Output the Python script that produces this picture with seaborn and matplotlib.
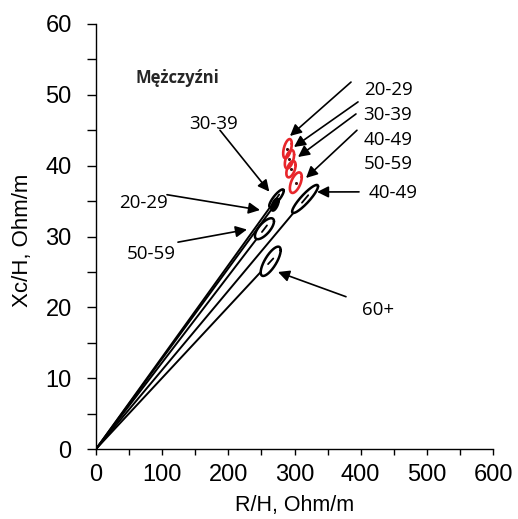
import numpy as np
import pandas as pd
import matplotlib
matplotlib.use("Agg")
import matplotlib.pyplot as plt
import matplotlib.transforms as mtransforms
import seaborn as sns

# Mean impedance vectors (R/H, Xc/H) of men by age group: mean, spread, R-Xc correlation
age_groups = ["20-29", "30-39", "40-49", "50-59", "60+"]
r_mean = [270.5, 272.8, 316.0, 254.6, 264.0]
xc_mean = [34.5, 35.4, 35.3, 31.1, 26.5]
r_spread = [4.5, 11.0, 19.6, 14.4, 15.1]
xc_spread = [0.75, 1.25, 1.98, 1.48, 2.07]
rx_corr = [0.7, 0.85, 0.9, 0.7, 0.75]

# Reference population (red ellipses)
ref_groups = ["20-29", "30-39", "40-49", "50-59"]
ref_r_mean = [289.4, 292.4, 294.7, 302.0]
ref_xc_mean = [42.4, 40.9, 39.5, 37.6]
ref_r_spread = [6.5, 7.0, 7.0, 9.0]
ref_xc_spread = [1.35, 1.3, 1.15, 1.45]
ref_corr = [0.5, 0.5, 0.5, 0.55]

x_ticks = [0, 100, 200, 300, 400, 500, 600]
y_ticks = [0, 10, 20, 30, 40, 50, 60]
title_text = "Mężczyźni"
x_label = "R/H, Ohm/m"
y_label = "Xc/H, Ohm/m"


def ellipse_points(cx, cy, hx, hy, r, n=240):
    t = np.linspace(0, 2 * np.pi, n)
    x = cx + hx * np.cos(t)
    y = cy + hy * (r * np.cos(t) + np.sqrt(1 - r * r) * np.sin(t))
    return x, y


def edge_fraction(cx, cy, hx, hy, r):
    # fraction of the origin->centre vector where it meets the ellipse
    cov = np.array([[hx * hx, r * hx * hy], [r * hx * hy, hy * hy]])
    c = np.array([cx, cy])
    m = c @ np.linalg.solve(cov, c)
    return 1 - 1 / np.sqrt(m)


sns.set_theme(style="ticks")
plt.rcParams["font.family"] = ["Liberation Sans", "DejaVu Sans"]

fig = plt.figure(figsize=(5.18, 5.19), dpi=100)
ax = fig.add_axes([96 / 518, 1 - 449 / 519, 397 / 518, 425 / 519])

# ellipses of the studied group
rows = []
for i, g in enumerate(age_groups):
    ex, ey = ellipse_points(r_mean[i], xc_mean[i], r_spread[i], xc_spread[i], rx_corr[i])
    rows.append(pd.DataFrame({"R": ex, "Xc": ey, "group": g}))
ell = pd.concat(rows, ignore_index=True)
thick = ell["group"] == "20-29"
sns.lineplot(data=ell[~thick], x="R", y="Xc", units="group", estimator=None,
             sort=False, color="black", lw=1.8, ax=ax)
sns.lineplot(data=ell[thick], x="R", y="Xc", units="group", estimator=None,
             sort=False, color="black", lw=2.8, ax=ax)

# vectors from the origin to each ellipse
vec_rows = []
for i, g in enumerate(age_groups):
    s = edge_fraction(r_mean[i], xc_mean[i], r_spread[i], xc_spread[i], rx_corr[i])
    vec_rows.append({"R": 0.0, "Xc": 0.0, "group": g})
    vec_rows.append({"R": s * r_mean[i], "Xc": s * xc_mean[i], "group": g})
vec = pd.DataFrame(vec_rows)
sns.lineplot(data=vec, x="R", y="Xc", units="group", estimator=None, sort=False,
             color="black", lw=1.4, ax=ax)

# short mark at each mean
mark_rows = []
for i, g in enumerate(age_groups):
    for f in (0.985, 1.015):
        mark_rows.append({"R": f * r_mean[i], "Xc": f * xc_mean[i], "group": g})
marks = pd.DataFrame(mark_rows)
sns.lineplot(data=marks, x="R", y="Xc", units="group", estimator=None, sort=False,
             color="black", lw=1.3, ax=ax)

# reference ellipses
rrows = []
for i, g in enumerate(ref_groups):
    ex, ey = ellipse_points(ref_r_mean[i], ref_xc_mean[i], ref_r_spread[i],
                            ref_xc_spread[i], ref_corr[i])
    rrows.append(pd.DataFrame({"R": ex, "Xc": ey, "group": g}))
ref_ell = pd.concat(rrows, ignore_index=True)
sns.lineplot(data=ref_ell, x="R", y="Xc", units="group", estimator=None, sort=False,
             color="#e8262b", lw=1.9, ax=ax)
sns.scatterplot(x=ref_r_mean, y=ref_xc_mean, color="#401010", s=5, linewidth=0, ax=ax)

ax.set_xlim(0, 600)
ax.set_ylim(0, 60)
ax.set_xticks(x_ticks)
ax.set_yticks(y_ticks)
ax.set_xticks(np.arange(50, 600, 100), minor=True)
ax.set_yticks(np.arange(5, 60, 10), minor=True)
ax.tick_params(axis="x", which="both", direction="out", length=4.5, width=1,
               color="black", labelcolor="black", labelsize=17, pad=6)
ax.tick_params(axis="y", which="both", direction="out", length=6.5, width=1,
               color="black", labelcolor="black", labelsize=17, pad=11)
sns.despine(ax=ax)
for sp in ("left", "bottom"):
    ax.spines[sp].set_color("black")
    ax.spines[sp].set_linewidth(1.0)

ax.set_xlabel(x_label, fontsize=15.5, color="black")
ax.set_ylabel(y_label, fontsize=16, color="black")
ax.xaxis.set_label_coords(0.5, -0.109)
ax.yaxis.set_label_coords(-0.158, 0.49)

lab_font = dict(family=["Open Sans", "DejaVu Sans"], fontsize=13.5, color="black")
ax.text(59, 52.4, title_text, family=["Open Sans", "DejaVu Sans"], fontsize=12,
        fontweight="bold", va="center", ha="left")

arrow_kw = dict(arrowstyle="-|>", color="black", lw=1.2, mutation_scale=17,
                shrinkA=0, shrinkB=0)


def pointer(cx, cy, dx, dy, sx, sy):
    tip = mtransforms.offset_copy(ax.transData, x=dx, y=dy, units="dots")
    ax.annotate("", xy=(cx, cy), xycoords=tip, xytext=(sx, sy),
                textcoords="data", arrowprops=arrow_kw)


# right-hand labels for the reference ellipses
ref_label_y = [50.7, 47.2, 43.6, 40.2]
ref_start = [(385.4, 51.8), (396.0, 49.0), (392.9, 47.3), (394.4, 45.0)]
ref_tip = [(2.5, 12.7), (4.5, 12.3), (7.0, 12.2), (10.2, 4.7)]
for i, g in enumerate(ref_groups):
    ax.text(404.5, ref_label_y[i], g, ha="left", va="center", **lab_font)
    pointer(ref_r_mean[i], ref_xc_mean[i], *ref_tip[i], *ref_start[i])

# labels for the studied group
grp_label_pos = {"20-29": (71.8, 34.8, "center"), "30-39": (178.3, 45.9, "center"),
                 "40-49": (412.0, 36.1, "left"), "50-59": (83.9, 27.5, "center"),
                 "60+": (402.0, 19.6, "left")}
grp_start = {"20-29": (107.3, 35.9), "30-39": (187.4, 45.0), "40-49": (397.5, 36.3),
             "50-59": (123.9, 29.2), "60+": (377.8, 21.5)}
grp_tip = {"20-29": (-15.0, -5.4), "30-39": (-7.2, 6.6), "40-49": (12.0, 7.0),
           "50-59": (-17.5, -0.8), "60+": (7.3, -10.7)}
for i, g in enumerate(age_groups):
    lx, ly, ha = grp_label_pos[g]
    ax.text(lx, ly, g, ha=ha, va="center", **lab_font)
    pointer(r_mean[i], xc_mean[i], *grp_tip[g], *grp_start[g])

fig.savefig("out.png", dpi=100)
